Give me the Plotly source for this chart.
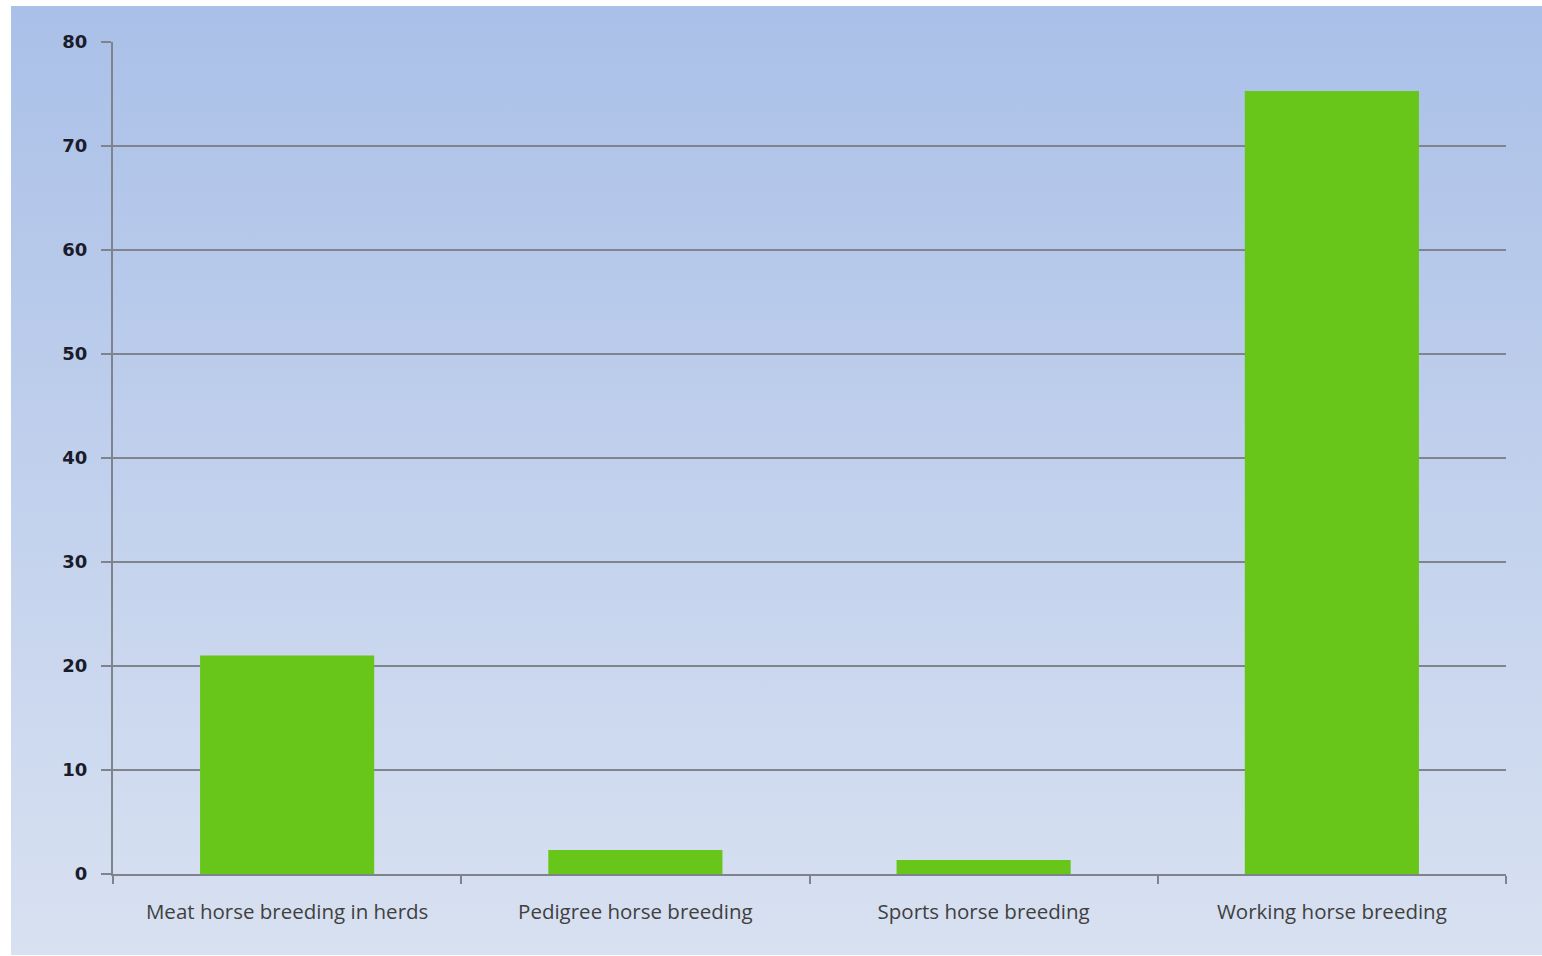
import base64
import plotly.graph_objects as go

categories = ["Meat horse breeding in herds", "Pedigree horse breeding",
              "Sports horse breeding", "Working horse breeding"]
values = [21.0, 2.3, 1.35, 75.3]
y_ticks = [0, 10, 20, 30, 40, 50, 60, 70, 80]

W, H = 1542, 956
L, R, T, B = 113, 36, 42, 82
pw, ph = W - L - R, H - T - B

svg = ('<svg xmlns="http://www.w3.org/2000/svg" width="100" height="100" preserveAspectRatio="none">'
       '<defs><linearGradient id="g" x1="0" y1="0" x2="0" y2="1">'
       '<stop offset="0" stop-color="#aac0e8"/><stop offset="1" stop-color="#d8e1f1"/>'
       '</linearGradient></defs><rect width="100" height="100" fill="url(#g)"/></svg>')
src = "data:image/svg+xml;base64," + base64.b64encode(svg.encode()).decode()

fig = go.Figure(go.Bar(
    x=categories, y=values, width=0.5,
    marker=dict(color="#68c61b", line=dict(width=0)),
))

bg_left, bg_top, bg_bottom = 11, 6, 955
fig.add_layout_image(dict(
    source=src, xref="paper", yref="paper",
    x=(bg_left - L) / pw, y=(H - B - bg_top) / ph,
    sizex=(W - bg_left) / pw, sizey=(bg_bottom - bg_top) / ph,
    xanchor="left", yanchor="top", sizing="stretch", layer="below",
))

fig.update_layout(
    width=W, height=H,
    margin=dict(l=L, r=R, t=T, b=B, pad=0),
    paper_bgcolor="white", plot_bgcolor="rgba(0,0,0,0)",
    showlegend=False, bargap=0.5,
)
fig.update_xaxes(
    showgrid=False, showline=True, linecolor="#7f838c", linewidth=2,
    ticks="outside", tickson="boundaries", ticklen=8, tickcolor="#7f838c", tickwidth=2,
    tickfont=dict(family="Open Sans", size=20.5, color="#404040"),
    ticklabelstandoff=18,
    zeroline=False,
)
fig.update_yaxes(
    range=[0, 80], tickvals=y_ticks, showgrid=True, gridcolor="#80848c", gridwidth=2,
    showline=True, linecolor="#7f838c", linewidth=2,
    ticks="outside", ticklen=10, tickcolor="#7f838c", tickwidth=2,
    tickfont=dict(family="DejaVu Sans", size=18, color="#1a1c2a", weight="bold"),
    ticklabelstandoff=10,
    zeroline=False,
)
fig.write_html("out.html")
